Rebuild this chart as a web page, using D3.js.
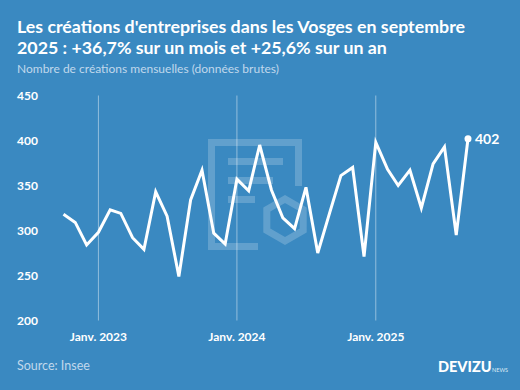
<!DOCTYPE html>
<html>
<head>
<meta charset="utf-8">
<script src="https://cdn.jsdelivr.net/npm/d3@7"></script>
<style>
  html, body { margin: 0; padding: 0; background: #3a89c1; }
  svg { display: block; font-family: Lato, "Noto Sans", sans-serif; }
</style>
</head>
<body>
<div id="chart"></div>
<script>
document.addEventListener("DOMContentLoaded", function() {

  // monthly business creations, Vosges (Oct 2022 -> Sep 2025)
  const months = [
    "2022-10", "2022-11", "2022-12",
    "2023-01", "2023-02", "2023-03", "2023-04", "2023-05", "2023-06",
    "2023-07", "2023-08", "2023-09", "2023-10", "2023-11", "2023-12",
    "2024-01", "2024-02", "2024-03", "2024-04", "2024-05", "2024-06",
    "2024-07", "2024-08", "2024-09", "2024-10", "2024-11", "2024-12",
    "2025-01", "2025-02", "2025-03", "2025-04", "2025-05", "2025-06",
    "2025-07", "2025-08", "2025-09"
  ];
  const creations = [
    318, 309, 284,
    298, 323, 319, 292, 279, 343,
    316, 249, 334, 367, 297, 285,
    357, 344, 395, 345, 314, 302,
    348, 275, 319, 361, 370, 271,
    398, 368, 350, 367, 325, 374,
    393, 295, 402
  ];
  const yTicks = [200, 250, 300, 350, 400, 450];
  const xTicks = ["2023-01", "2024-01", "2025-01"];
  const xTickLabels = ["Janv. 2023", "Janv. 2024", "Janv. 2025"];

  const width = 520, height = 390;
  const parse = d3.timeParse("%Y-%m");
  const data = months.map((m, i) => ({ date: parse(m), value: creations[i] }));

  const svg = d3.select("#chart").append("svg")
    .attr("width", width)
    .attr("height", height);

  svg.append("rect").attr("width", width).attr("height", height).attr("fill", "#3a89c1");

  const x = d3.scaleTime()
    .domain(d3.extent(data, d => d.date))
    .range([63.5, 468]);
  const y = d3.scaleLinear()
    .domain([200, 450])
    .range([320.5, 95.5]);

  // title block
  svg.append("text")
    .attr("x", 17).attr("y", 33)
    .attr("fill", "#fff").attr("font-size", 17.8).attr("font-weight", 700)
    .text("Les créations d'entreprises dans les Vosges en septembre");
  svg.append("text")
    .attr("x", 17).attr("y", 54)
    .attr("fill", "#fff").attr("font-size", 17.8).attr("font-weight", 700)
    .text("2025 : +36,7% sur un mois et +25,6% sur un an");
  svg.append("text")
    .attr("x", 17).attr("y", 73)
    .attr("fill", "#c0d8ec").attr("font-size", 12)
    .text("Nombre de créations mensuelles (données brutes)");

  // watermark logo
  const wm = svg.append("g")
    .attr("fill", "none")
    .attr("stroke", "#fff")
    .attr("stroke-opacity", 0.2);
  wm.append("path")
    .attr("stroke-width", 7)
    .attr("d", "M258,246.5 H211.5 V142.5 H298.5 V186");
  wm.append("path")
    .attr("stroke-width", 7)
    .attr("d", "M228,161.5 H283 M228,180.5 H273 M228,199.5 H255");
  const hex = d3.range(6).map(i => {
    const a = Math.PI / 6 + i * Math.PI / 3;
    return [285 + 21 * Math.cos(a), 220 + 21 * Math.sin(a)];
  });
  wm.append("path")
    .attr("stroke-width", 7)
    .attr("d", d3.line()(hex) + "Z");

  // vertical grid lines at january
  svg.append("g")
    .selectAll("line")
    .data(xTicks)
    .join("line")
    .attr("x1", d => x(parse(d)))
    .attr("x2", d => x(parse(d)))
    .attr("y1", y(450))
    .attr("y2", y(200))
    .attr("stroke", "#fff")
    .attr("stroke-opacity", 0.45)
    .attr("stroke-width", 1);

  // y labels
  svg.append("g")
    .selectAll("text")
    .data(yTicks)
    .join("text")
    .attr("x", 17)
    .attr("y", d => y(d))
    .attr("dy", "0.35em")
    .attr("fill", "#fff")
    .attr("font-size", 12)
    .attr("font-weight", 700)
    .text(d => d);

  // x labels
  svg.append("g")
    .selectAll("text")
    .data(xTicks)
    .join("text")
    .attr("x", d => x(parse(d)))
    .attr("y", 337)
    .attr("dy", "0.35em")
    .attr("text-anchor", "middle")
    .attr("fill", "#fff")
    .attr("font-size", 12)
    .attr("font-weight", 700)
    .text((d, i) => xTickLabels[i]);

  // line
  const line = d3.line()
    .x(d => x(d.date))
    .y(d => y(d.value));

  svg.append("path")
    .datum(data)
    .attr("d", line)
    .attr("fill", "none")
    .attr("stroke", "#fff")
    .attr("stroke-width", 3)
    .attr("stroke-linejoin", "miter");

  const last = data[data.length - 1];
  svg.append("circle")
    .attr("cx", x(last.date))
    .attr("cy", y(last.value))
    .attr("r", 3.5)
    .attr("fill", "#fff");
  svg.append("text")
    .attr("x", x(last.date) + 7)
    .attr("y", y(last.value))
    .attr("dy", "0.35em")
    .attr("fill", "#fff")
    .attr("font-size", 14)
    .attr("font-weight", 700)
    .text(last.value);

  // footer
  svg.append("text")
    .attr("x", 17).attr("y", 366)
    .attr("dy", "0.35em")
    .attr("fill", "#c0d8ec")
    .attr("font-size", 12.5)
    .text("Source: Insee");
  const brand = svg.append("text")
    .attr("x", 438).attr("y", 372)
    .attr("fill", "#fff");
  brand.append("tspan")
    .attr("font-size", 14.5).attr("font-weight", 900)
    .text("DEVIZU");
  brand.append("tspan")
    .attr("font-size", 5.5).attr("fill", "#dce9f5")
    .attr("dx", 0.5)
    .text("NEWS");
});
</script>
</body>
</html>
